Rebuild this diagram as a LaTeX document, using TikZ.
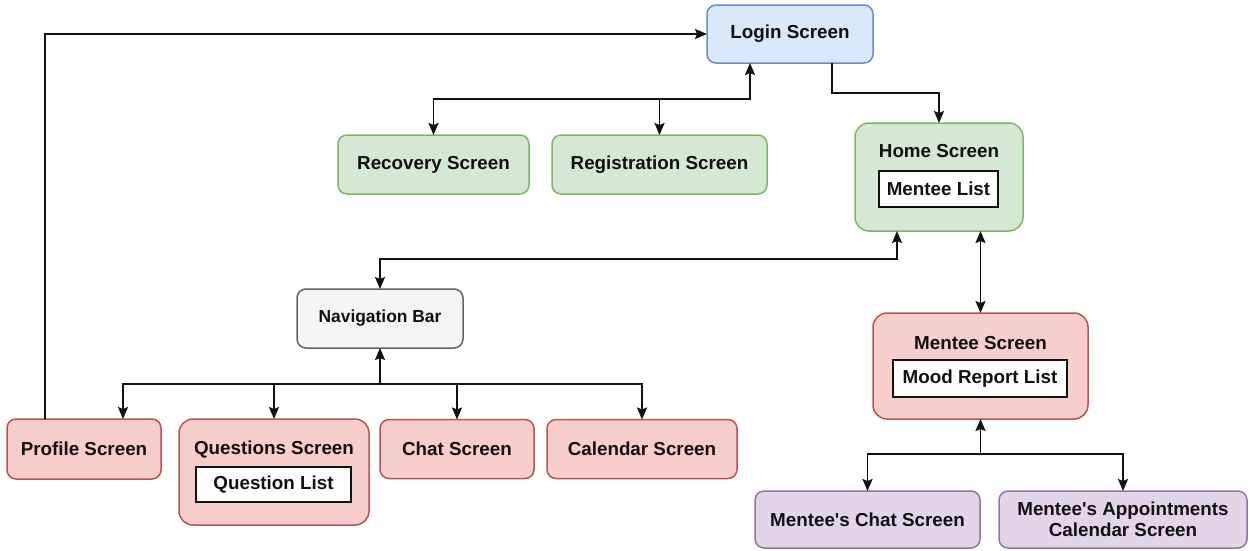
\documentclass[tikz,border=0pt]{standalone}
\usepackage{fontspec}
\setmainfont{Liberation Sans}
\usetikzlibrary{arrows.meta,calc}
\definecolor{bluef}{HTML}{DAE8FC}\definecolor{blued}{HTML}{6C8EBF}
\definecolor{greenf}{HTML}{D5E8D4}\definecolor{greend}{HTML}{82B366}
\definecolor{redf}{HTML}{F8CECC}\definecolor{redd}{HTML}{B85450}
\definecolor{grayf}{HTML}{F5F5F5}\definecolor{grayd}{HTML}{666666}
\definecolor{purf}{HTML}{E1D5E7}\definecolor{purd}{HTML}{9673A6}
\definecolor{ink}{HTML}{111111}
\begin{document}
\begin{tikzpicture}[x=1pt,y=-1pt,
  every node/.style={inner sep=0pt,outer sep=0pt,text=ink,font=\fontsize{18.8}{22}\selectfont\bfseries,align=center},
  box/.style={draw,line width=1.5pt,rounded corners=9pt,minimum width=#1},
  bluebox/.style={box=#1,fill=bluef,draw=blued},
  greenbox/.style={box=#1,fill=greenf,draw=greend},
  redbox/.style={box=#1,fill=redf,draw=redd},
  graybox/.style={box=#1,fill=grayf,draw=grayd},
  purbox/.style={box=#1,fill=purf,draw=purd},
  inner/.style={draw=ink,fill=white,line width=1.6pt,minimum width=#1,minimum height=36pt},
  conn/.style={draw=ink,line width=1.9pt},
  arr/.style={conn,-{Stealth[length=12pt,width=10pt,inset=2pt]}},
  darr/.style={conn,{Stealth[length=12pt,width=10pt,inset=2pt]}-{Stealth[length=12pt,width=10pt,inset=2pt]}}
]
\useasboundingbox (0,0) rectangle (1250,550);
% top
\node[bluebox=166pt,minimum height=58pt] (login) at (790,34) {Login Screen};
\node[greenbox=191pt,minimum height=59pt] (reco) at (433.5,164.5) {Recovery Screen};
\node[greenbox=215pt,minimum height=59pt] (reg) at (659.5,164.5) {Registration Screen};
% home
\node[greenbox=168pt,minimum height=108pt,rounded corners=14pt] (home) at (939,177) {};
\node (homet) at (939,151) {Home Screen};
\node[inner=119pt] (mlist) at (938.5,189) {Mentee List};
% nav
\node[graybox=166pt,minimum height=59pt,font=\fontsize{17.4}{20}\selectfont\bfseries] (nav) at (380,318.5) {Navigation Bar};
% mentee
\node[redbox=215pt,minimum height=106pt,rounded corners=14pt] (ment) at (980.5,366) {};
\node (mentt) at (980.5,343) {Mentee Screen};
\node[inner=174pt,minimum height=37pt] (mood) at (980,378.5) {Mood Report List};
% bottom row
\node[redbox=154pt,minimum height=60pt] (prof) at (84,449) {Profile Screen};
\node[redbox=190pt,minimum height=106pt,rounded corners=14pt] (ques) at (274,472) {};
\node (quest) at (274,450) {Questions Screen};
\node[inner=155pt,minimum height=35pt] (qlist) at (273.5,484.5) {Question List};
\node[redbox=154pt,minimum height=59pt] (chat) at (457,449) {Chat Screen};
\node[redbox=190pt,minimum height=59pt] (cal) at (642,449) {Calendar Screen};
% mentee children
\node[purbox=225pt,minimum height=57pt] (mchat) at (867.5,519.5) {Mentee\textquotesingle s Chat Screen};
\node[purbox=248pt,minimum height=57pt] (mappt) at (1123,519.5) {Mentee\textquotesingle s Appointments\\[-1pt]Calendar Screen};
% connectors
\draw[arr] ($(prof.north west)+(38,0)$) |- (login.west);
\draw[darr] (reco.north) -- ++(0,-36) -| ($(login.south)+(-40,0)$);
\draw[arr] ($(reg.north)+(0,-36)$) -- (reg.north);
\draw[arr] ($(login.south)+(42,0)$) -- ++(0,30) -| (home.north);
\draw[darr] ($(home.south)+(-42,0)$) -- ++(0,28) -| (nav.north);
\draw[darr] (home.south -| ment.north) -- (ment.north);
\draw[darr] (nav.south) -- ++(0,36) -| ($(prof.north)+(39,0)$);
\draw[arr] ($(nav.south)+(0,36)$) -| (cal.north);
\draw[arr] ($(ques.north)+(0,-35)$) -- (ques.north);
\draw[arr] ($(chat.north)+(0,-36)$) -- (chat.north);
\draw[darr] (ment.south) -- ++(0,35) -| (mchat.north);
\draw[arr] ($(ment.south)+(0,35)$) -| (mappt.north);
\end{tikzpicture}
\end{document}
